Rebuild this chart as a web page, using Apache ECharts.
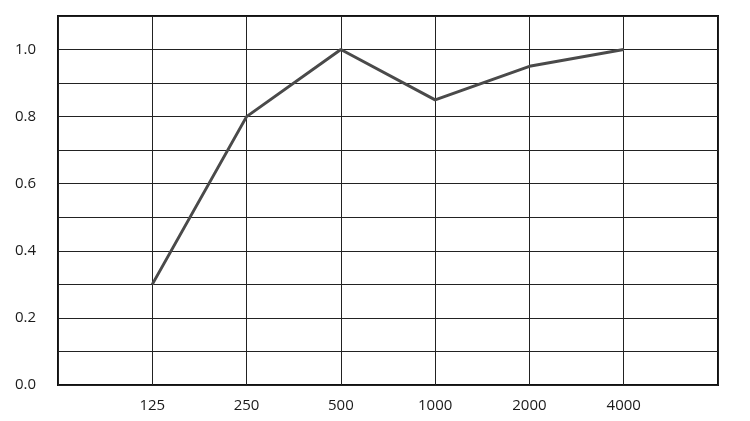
<!DOCTYPE html>
<html>
<head>
<meta charset="utf-8">
<script src="https://cdn.jsdelivr.net/npm/echarts@6/dist/echarts.min.js"></script>
<style>
  html, body { margin: 0; padding: 0; background: #fff; }
  #chart { width: 750px; height: 421px; }
</style>
</head>
<body>
<div id="chart"></div>
<script>
// frequency bands (Hz) and absorption values
const freqs = ['125', '250', '500', '1000', '2000', '4000'];
const absorption = [0.3, 0.8, 1.0, 0.85, 0.95, 1.0];

// empty slot on each side so the plot has a blank column at both ends
const xData = [''].concat(freqs, ['']);
const yData = [null].concat(absorption, [null]);

const chart = echarts.init(document.getElementById('chart'));
chart.setOption({
  animation: false,
  grid: {
    left: 58,
    right: 32,
    top: 16,
    bottom: 36,
    show: true,
    borderColor: '#111',
    borderWidth: 2
  },
  xAxis: {
    type: 'category',
    boundaryGap: false,
    data: xData,
    axisLine: { show: false },
    axisTick: { show: false },
    axisLabel: {
      margin: 13,
      fontSize: 15,
      color: '#1a1a1a',
      fontFamily: 'Open Sans',
      interval: 0
    },
    splitLine: { show: true, lineStyle: { color: '#222', width: 1 } }
  },
  yAxis: {
    type: 'value',
    min: 0,
    max: 1.1,
    interval: 0.1,
    axisLine: { show: false },
    axisTick: { show: false },
    axisLabel: {
      margin: 22,
      fontSize: 15,
      color: '#1a1a1a',
      fontFamily: 'Open Sans',
      formatter: function (v) {
        const t = Math.round(v * 10);
        return (t % 2 === 0 && t <= 10) ? (t / 10).toFixed(1) : '';
      }
    },
    splitLine: { show: true, lineStyle: { color: '#222', width: 1 } }
  },
  series: [{
    type: 'line',
    data: yData,
    symbol: 'none',
    lineStyle: { color: '#4a4a4a', width: 3 }
  }]
});
</script>
</body>
</html>
